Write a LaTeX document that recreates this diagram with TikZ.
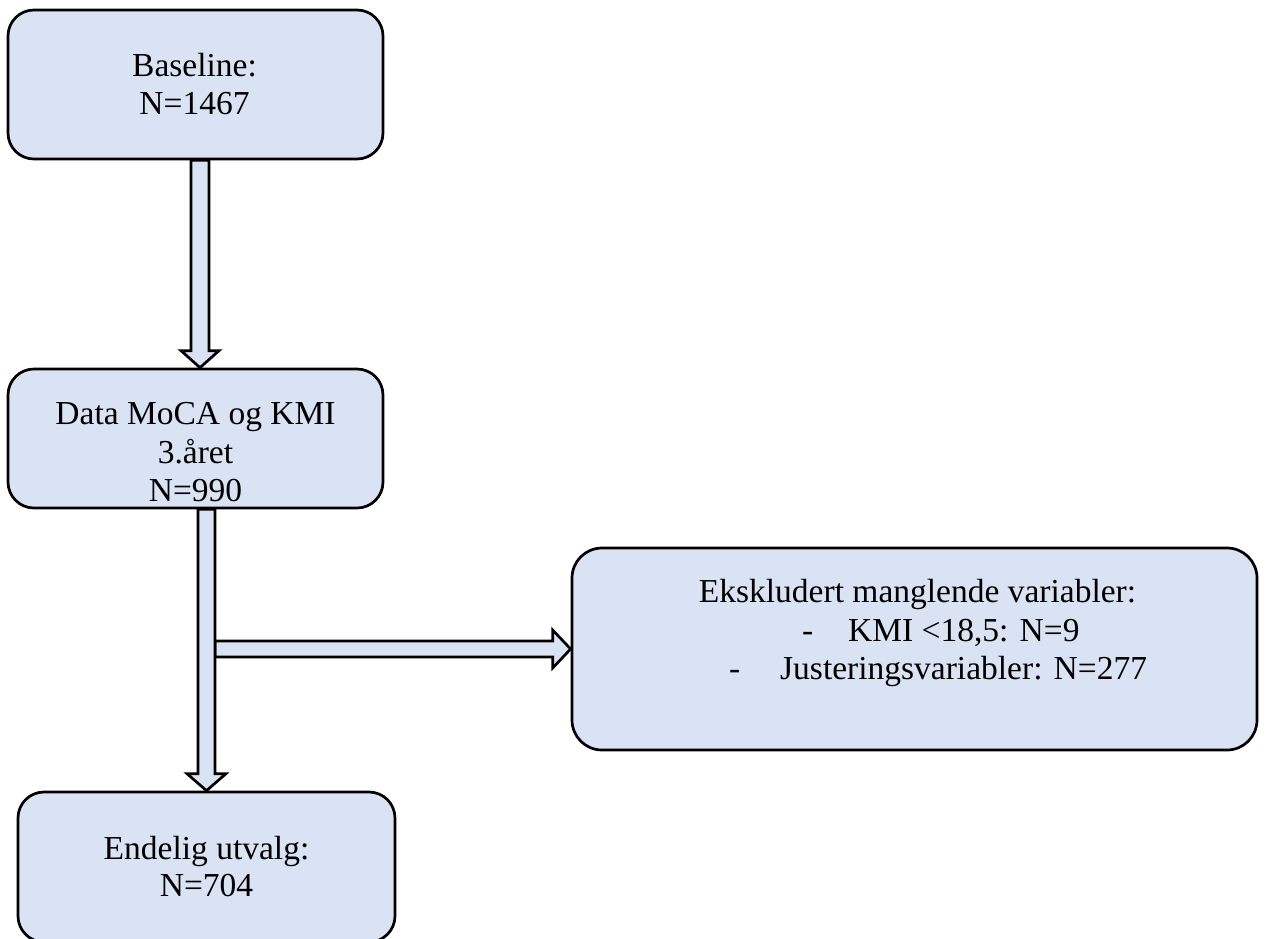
\documentclass[tikz,border=0pt]{standalone}
\usepackage{fontspec}
\setmainfont{Liberation Serif}
\usetikzlibrary{calc}
\definecolor{boxfill}{HTML}{DAE3F3}
\newcommand\blockdown[4]{%
  \draw[barrow] ($(#1)+(-#3,0)$) -- ($(#2)+(-#3,-17)$) -- ($(#2)+(-#4,-17)$) -- (#2)
    -- ($(#2)+(#4,-17)$) -- ($(#2)+(#3,-17)$) -- ($(#1)+(#3,0)$) -- cycle;}
\begin{document}
\begin{tikzpicture}[x=1pt,y=-1pt,
  box/.style={draw=black, fill=boxfill, line width=2.7pt, rounded corners=26pt, rectangle, inner sep=0pt},
  txt/.style={font=\fontsize{33.5}{38}\selectfont, inner sep=0pt, anchor=base},
  txtl/.style={txt, anchor=base west},
  barrow/.style={draw=black, fill=boxfill, line width=2.7pt, line join=miter}]
\path[use as bounding box] (0,0) rectangle (1265,938);
\clip (0,0) rectangle (1265,938);
% positions
\coordinate (ax1) at (200,0);
\coordinate (ax2) at (206.5,0);
\path (195.5,84.5) coordinate (p1) (195.5,438.5) coordinate (p2)
      (914.5,649) coordinate (p3) (206.5,867) coordinate (p4);
% invisible frames giving the anchors for the arrows
\node[box, minimum width=375pt, minimum height=149pt, draw=none, fill=none] (b1) at (p1) {};
\node[box, minimum width=375pt, minimum height=139pt, draw=none, fill=none] (b2) at (p2) {};
\node[box, minimum width=685pt, minimum height=202pt, draw=none, fill=none] (b3) at (p3) {};
\node[box, minimum width=377pt, minimum height=150pt, draw=none, fill=none] (b4) at (p4) {};
% block arrows (under the boxes)
\blockdown{ax1 |- b1.south}{ax1 |- b2.north}{9}{19}
\coordinate (hs) at ($(ax2 |- b3.west)+(8.5,0)$);
\draw[barrow] ($(hs)+(0,-8)$) -- ($(b3.west)+(-18,-8)$) -- ($(b3.west)+(-18,-19)$) -- (b3.west)
  -- ($(b3.west)+(-18,19)$) -- ($(b3.west)+(-18,8)$) -- ($(hs)+(0,8)$) -- cycle;
\blockdown{ax2 |- b2.south}{ax2 |- b4.north}{8.5}{19.5}
% visible boxes
\node[box, minimum width=375pt, minimum height=149pt] (v1) at (b1) {};
\node[box, minimum width=375pt, minimum height=139pt] (v2) at (b2) {};
\node[box, minimum width=685pt, minimum height=202pt, rounded corners=30pt] (v3) at (b3) {};
\node[box, minimum width=377pt, minimum height=150pt] (v4) at (b4) {};
% texts
\node[txt] (t1a) at (194.5,76) {Baseline:};
\node[txt] (t1b) at (194.5,114) {N=1467};
\node[txt] (t2a) at (195.5,424) {Data MoCA og KMI};
\node[txt] (t2b) at (195.5,463) {3.året};
\node[txt] (t2c) at (195.5,501) {N=990};
\node[txt] (t3a) at (917.5,602) {Ekskludert manglende variabler:};
\node[txtl] (t3b) at (802,641) {-};
\node[txtl] (t3c) at (848,641) {KMI <18,5: N=9};
\node[txtl] (t3d) at (729,679) {-};
\node[txtl] (t3e) at (780,679) {Justeringsvariabler: N=277};
\node[txt] (t4a) at (206.5,859) {Endelig utvalg:};
\node[txt] (t4b) at (206.5,896) {N=704};
\end{tikzpicture}
\end{document}
